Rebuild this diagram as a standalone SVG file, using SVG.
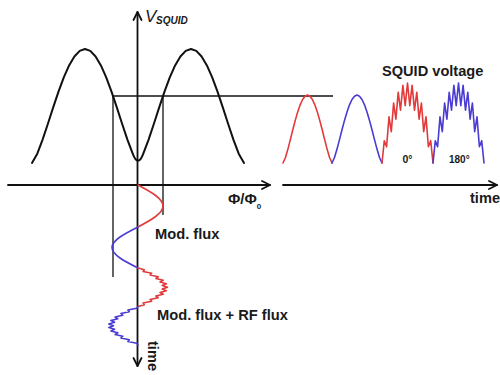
<svg xmlns="http://www.w3.org/2000/svg" width="500" height="375" viewBox="0 0 500 375">
<style>
.ax{fill:none;stroke:#111;stroke-width:1.8;stroke-linecap:round;stroke-linejoin:round}
.thin{fill:none;stroke:#111;stroke-width:1.3}
.curve{fill:none;stroke:#111;stroke-width:2;stroke-linejoin:round;stroke-linecap:round}
.red{fill:none;stroke:#e23a3a;stroke-width:1.6;stroke-linejoin:round;stroke-linecap:round}
.blue{fill:none;stroke:#4a3cd2;stroke-width:1.6;stroke-linejoin:round;stroke-linecap:round}
.lbl{font-family:"Liberation Sans",Arial,sans-serif;font-weight:bold;fill:#1a1a1a}
</style>
<rect width="500" height="375" fill="#fff"/>
<g id="axes">
<line class="ax" x1="137.5" y1="12" x2="137.5" y2="366"/>
<polyline class="ax" points="133.5,20 137.5,12 141.5,20"/>
<polyline class="ax" points="133.5,358 137.5,366 141.5,358"/>
<line class="ax" x1="8" y1="185" x2="270" y2="185"/>
<polyline class="ax" points="262,181 270,185 262,189"/>
<line class="ax" x1="283" y1="185" x2="497" y2="185"/>
<polyline class="ax" points="489,181 497,185 489,189"/>
</g>
<g id="connectors">
<line class="thin" x1="113" y1="96" x2="333" y2="96"/>
<line class="thin" x1="113" y1="96" x2="113" y2="277"/>
<line class="thin" x1="163" y1="96" x2="163" y2="215"/>
</g>
<g id="v-phi-curve">
<path class="curve" d="M32,163 L37.3,153.7 42.6,139.6 47.9,123.7 53.2,107.4 58.5,91.6 63.8,77.3 69.1,65.4 74.4,56.5 79.7,50.9 85,49 90.3,50.9 95.6,56.5 100.9,65.4 106.2,77.3 111.5,91.6 116.8,107.4 122.1,123.7 127.4,139.6 132.7,153.7 Q138,168 143.3,153.7 L148.6,139.6 153.9,123.7 159.2,107.4 164.5,91.6 169.8,77.3 175.1,65.4 180.4,56.5 185.7,50.9 191,49 196.3,50.9 201.6,56.5 206.9,65.4 212.2,77.3 217.5,91.6 222.8,107.4 228.1,123.7 233.4,139.6 238.7,153.7 244,163"/>
</g>
<g id="mod-flux">
<path class="red" d="M138,185 C150.8,191.8 163,198.5 163,206 C163,213.5 150.8,220.2 138,227"/>
<path class="blue" d="M138,227 C124.7,233.7 112,240.2 112,247.5 C112,254.8 124.7,261.3 138,268"/>
</g>
<g id="mod-rf-flux">
<polyline class="red" points="138,268 144.3,269.75 143.1,271.5 151.7,273.25 150.1,275 158.2,276.75 155.9,278.5 163.2,280.25 160.1,282 166.4,283.75 162.2,285.5 167.5,287.25 162.2,289 166.4,290.75 160.1,292.5 163.2,294.25 155.9,296 158.2,297.75 150.1,299.5 151.7,301.25 143.1,303 144.3,304.75 138,306.5"/>
<polyline class="blue" points="138,306.5 136.7,308.25 127.9,310 129.3,311.75 120.9,313.5 122.8,315.25 115.1,317 117.8,318.75 110.9,320.5 114.6,322.25 108.8,324 113.5,325.75 108.8,327.5 114.6,329.25 110.9,331 117.8,332.75 115.1,334.5 122.8,336.25 120.9,338 129.3,339.75 127.9,341.5 136.7,343.25 138,345"/>
</g>
<g id="squid-voltage">
<polyline class="red" points="283,163 285.45,157.5 287.9,149.1 290.35,139.6 292.8,129.8 295.25,120.4 297.7,111.9 300.15,104.8 302.6,99.5 305.05,96.2 307.5,95 309.95,96.2 312.4,99.5 314.85,104.8 317.3,111.9 319.75,120.4 322.2,129.8 324.65,139.6 327.1,149.1 329.55,157.5 332,163"/>
<polyline class="blue" points="332,163 334.5,157.5 337,149.1 339.5,139.6 342,129.8 344.5,120.4 347,111.9 349.5,104.8 352,99.5 354.5,96.2 357,95 359.5,96.2 362,99.5 364.5,104.8 367,111.9 369.5,120.4 372,129.8 374.5,139.6 377,149.1 379.5,157.5 382,163"/>
<polyline class="red" points="382,163 384.3,140.7 386.6,146.7 389,116.9 391.3,131.6 393.6,103 395.9,119.2 398.2,92.2 400.5,110.2 402.9,85.4 405.2,105.6 407.5,83 409.8,105.6 412.1,85.4 414.5,110.2 416.8,92.2 419.1,119.2 421.4,103 423.7,131.6 426,116.9 428.4,146.7 430.7,140.7 433,163"/>
<polyline class="blue" points="433,163 435.3,140.7 437.6,146.7 440,116.9 442.3,131.6 444.6,103 446.9,119.2 449.2,92.2 451.5,110.2 453.9,85.4 456.2,105.6 458.5,83 460.8,105.6 463.1,85.4 465.5,110.2 467.8,92.2 470.1,119.2 472.4,103 474.7,131.6 477,116.9 479.4,146.7 481.7,140.7 484,163"/>
</g>
<g id="labels">
<text x="145" y="22" font-family="Liberation Sans,Arial,sans-serif" font-style="italic" font-size="17" fill="#1a1a1a">V</text>
<text class="lbl" x="156" y="24" font-style="italic" font-size="10">SQUID</text>
<text class="lbl" x="228" y="204" font-size="15">Φ/Φ<tspan dy="5" font-size="8">0</tspan></text>
<text class="lbl" x="155" y="239" font-size="14.7">Mod. flux</text>
<text class="lbl" x="157" y="320" font-size="14.7">Mod. flux + RF flux</text>
<text class="lbl" x="382" y="76" font-size="14.6">SQUID voltage</text>
<text class="lbl" x="402.5" y="163" font-size="10.5">0°</text>
<text class="lbl" x="449" y="163" font-size="10">180°</text>
<text class="lbl" x="470" y="203" font-size="14.6">time</text>
<text class="lbl" font-size="14.6" transform="translate(147.5,341) rotate(90)">time</text>
</g>
</svg>
